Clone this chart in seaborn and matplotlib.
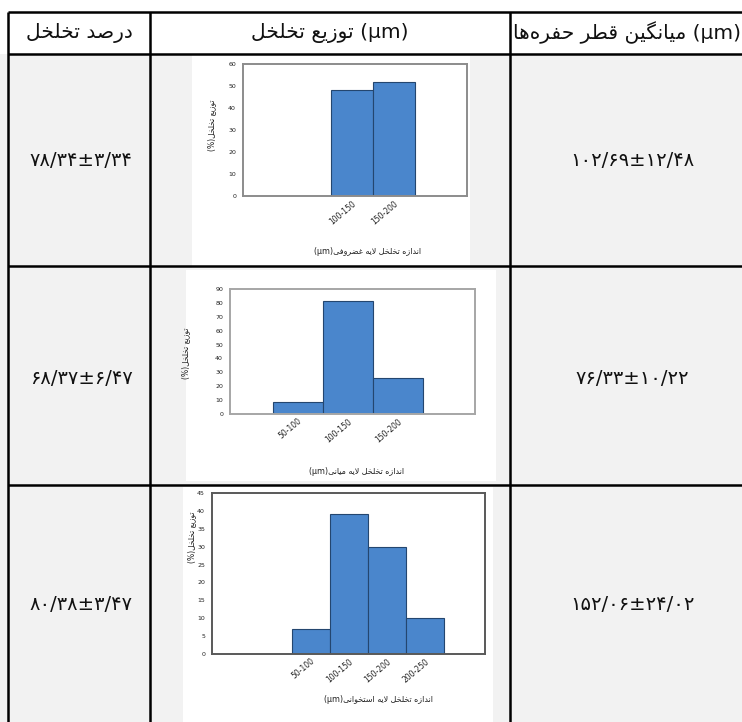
import matplotlib
matplotlib.use("Agg")
import matplotlib.pyplot as plt
from matplotlib.patches import Rectangle
from matplotlib.lines import Line2D
import seaborn as sns

# ---- data -------------------------------------------------------------
categories_1 = ["100-150", "150-200"]
porosity_1 = [48, 52]
categories_2 = ["50-100", "100-150", "150-200"]
porosity_2 = [9, 81, 26]
categories_3 = ["50-100", "100-150", "150-200", "200-250"]
porosity_3 = [7, 39, 30, 10]

layer_names = ["غضروفی", "میانی", "استخوانی"]
porosity_percent = ["۷۸/۳۴±۳/۳۴", "۶۸/۳۷±۶/۴۷", "۸۰/۳۸±۳/۴۷"]
mean_pore_size = ["۱۰۲/۶۹±۱۲/۴۸", "۷۶/۳۳±۱۰/۲۲", "۱۵۲/۰۶±۲۴/۰۲"]

header_left = "درصد تخلخل"
header_mid = "توزیع تخلخل"
header_right = "میانگین قطر حفره‌ها"
axis_x_prefix = "اندازه تخلخل لایه"
axis_y_text = "توزیع تخلخل"

# ---- minimal Persian shaping (presentation forms, right-to-left) -------
FORMS = {
    'ا': (0xFE8D, 0xFE8E, None, None),
    'ب': (0xFE8F, 0xFE90, 0xFE91, 0xFE92),
    'ت': (0xFE95, 0xFE96, 0xFE97, 0xFE98),
    'ث': (0xFE99, 0xFE9A, 0xFE9B, 0xFE9C),
    'ج': (0xFE9D, 0xFE9E, 0xFE9F, 0xFEA0),
    'ح': (0xFEA1, 0xFEA2, 0xFEA3, 0xFEA4),
    'خ': (0xFEA5, 0xFEA6, 0xFEA7, 0xFEA8),
    'د': (0xFEA9, 0xFEAA, None, None),
    'ذ': (0xFEAB, 0xFEAC, None, None),
    'ر': (0xFEAD, 0xFEAE, None, None),
    'ز': (0xFEAF, 0xFEB0, None, None),
    'س': (0xFEB1, 0xFEB2, 0xFEB3, 0xFEB4),
    'ش': (0xFEB5, 0xFEB6, 0xFEB7, 0xFEB8),
    'ص': (0xFEB9, 0xFEBA, 0xFEBB, 0xFEBC),
    'ض': (0xFEBD, 0xFEBE, 0xFEBF, 0xFEC0),
    'ط': (0xFEC1, 0xFEC2, 0xFEC3, 0xFEC4),
    'ظ': (0xFEC5, 0xFEC6, 0xFEC7, 0xFEC8),
    'ع': (0xFEC9, 0xFECA, 0xFECB, 0xFECC),
    'غ': (0xFECD, 0xFECE, 0xFECF, 0xFED0),
    'ف': (0xFED1, 0xFED2, 0xFED3, 0xFED4),
    'ق': (0xFED5, 0xFED6, 0xFED7, 0xFED8),
    'ل': (0xFEDD, 0xFEDE, 0xFEDF, 0xFEE0),
    'م': (0xFEE1, 0xFEE2, 0xFEE3, 0xFEE4),
    'ن': (0xFEE5, 0xFEE6, 0xFEE7, 0xFEE8),
    'ه': (0xFEE9, 0xFEEA, 0xFEEB, 0xFEEC),
    'و': (0xFEED, 0xFEEE, None, None),
    'پ': (0xFB56, 0xFB57, 0xFB58, 0xFB59),
    'چ': (0xFB7A, 0xFB7B, 0xFB7C, 0xFB7D),
    'ژ': (0xFB8A, 0xFB8B, None, None),
    'ک': (0xFB8E, 0xFB8F, 0xFB90, 0xFB91),
    'گ': (0xFB92, 0xFB93, 0xFB94, 0xFB95),
    'ی': (0xFBFC, 0xFBFD, 0xFBFE, 0xFBFF),
}


def fa(text):
    """Return Persian text joined and in visual (left-to-right) order."""
    s, out, i, n = text, [], 0, len(text)
    while i < n:
        c = s[i]
        prev = s[i - 1] if i > 0 else ''
        jp = prev in FORMS and FORMS[prev][2] is not None
        if c == 'ل' and i + 1 < n and s[i + 1] == 'ا':
            out.append(chr(0xFEFC if jp else 0xFEFB))
            i += 2
            continue
        if c in FORMS:
            f = FORMS[c]
            nxt = s[i + 1] if i + 1 < n else ''
            jn = f[2] is not None and nxt in FORMS
            if jp and jn:
                g = f[3]
            elif jp:
                g = f[1]
            elif jn:
                g = f[2]
            else:
                g = f[0]
            out.append(chr(g))
        elif c != '\u200c':
            out.append(c)
        i += 1
    return ''.join(reversed(out))


# ---- figure -------------------------------------------------------------
W, H = 742, 722
sns.set_theme(style="white")
plt.rcParams['font.family'] = ['DejaVu Sans']
fig = plt.figure(figsize=(W / 100, H / 100), dpi=100, facecolor="#f2f2f2")


def rect(x0, y0, x1, y1):
    return [x0 / W, 1 - y1 / H, (x1 - x0) / W, (y1 - y0) / H]


def px_line(x0, y0, x1, y1, lw=1.8, color="black"):
    fig.add_artist(Line2D([x0 / W, x1 / W], [1 - y0 / H, 1 - y1 / H],
                          transform=fig.transFigure, color=color, lw=lw,
                          solid_capstyle="butt"))


def px_text(x, y, s, **kw):
    fig.text(x / W, 1 - y / H, s, ha="center", va="center", **kw)


def px_box(x0, y0, x1, y1, color):
    fig.add_artist(Rectangle((x0 / W, 1 - y1 / H), (x1 - x0) / W, (y1 - y0) / H,
                             transform=fig.transFigure, facecolor=color,
                             edgecolor="none", zorder=0))


# white header band
px_box(0, 0, W, 54, "white")

# table grid
row_lines = [12, 54, 266, 485]
for y in row_lines:
    px_line(8, y, W, y)
for x in [8, 150, 510]:
    px_line(x, 12, x, H)

# header texts
px_text(79, 33, fa(header_left), fontsize=14.5, color="#111111")
px_text(330, 33, fa(header_mid) + " (µm)", fontsize=14.5, color="#111111")
px_text(627, 33, fa(header_right) + " (µm)", fontsize=14.5, color="#111111")

# value cells
row_centers = [160, 378, 605]
for yc, p, m in zip(row_centers, porosity_percent, mean_pore_size):
    px_text(81, yc, p, fontsize=14, color="#111111")
    px_text(632, yc, m, fontsize=14, color="#111111")

# ---- histograms ---------------------------------------------------------
bar_face = "#4a86cc"
bar_edge = "#24466f"

charts = [
    dict(cats=categories_1, vals=porosity_1, box=(192, 55, 470, 268),
         plot=(243, 64, 467, 196), ymax=60, step=10, xlim=(-2.6, 2.74),
         xlab=(368, 252), ylab=(212, 125), frame="#8c8c8c"),
    dict(cats=categories_2, vals=porosity_2, box=(186, 270, 496, 481),
         plot=(230, 289, 475, 414), ymax=90, step=10, xlim=(-1.36, 3.54),
         xlab=(357, 472), ylab=(186, 353), frame="#a6a6a6"),
    dict(cats=categories_3, vals=porosity_3, box=(183, 487, 493, 722),
         plot=(212, 493, 485, 654), ymax=45, step=5, xlim=(-2.6, 4.58),
         xlab=(379, 700), ylab=(192, 537), frame="#595959"),
]

for ch, layer in zip(charts, layer_names):
    px_box(*ch["box"], "white")
    ax = fig.add_axes(rect(*ch["plot"]))
    sns.barplot(x=ch["cats"], y=ch["vals"], ax=ax, color=bar_face,
                saturation=1, width=1.0, edgecolor=bar_edge, linewidth=0.8)
    ax.set_xlim(*ch["xlim"])
    ax.set_ylim(0, ch["ymax"])
    ax.set_yticks(range(0, ch["ymax"] + 1, ch["step"]))
    ax.tick_params(axis="y", labelsize=4.5, length=0, pad=5, colors="#222222")
    ax.tick_params(axis="x", labelsize=5.5, length=0, pad=2, colors="#222222")
    for lab in ax.get_xticklabels():
        lab.set_rotation(40)
        lab.set_ha("right")
        lab.set_rotation_mode("anchor")
    ax.set_facecolor("white")
    for sp in ax.spines.values():
        sp.set_color(ch["frame"])
        sp.set_linewidth(1.4)
    ax.set_xlabel("")
    ax.set_ylabel("")
    px_text(ch["xlab"][0], ch["xlab"][1],
            "(µm)" + fa(axis_x_prefix + " " + layer), fontsize=5.8,
            color="#222222")
    px_text(ch["ylab"][0], ch["ylab"][1], "(%)" + fa(axis_y_text),
            fontsize=5.5, rotation=90, color="#222222")

fig.savefig("out.png", dpi=100, facecolor=fig.get_facecolor())
